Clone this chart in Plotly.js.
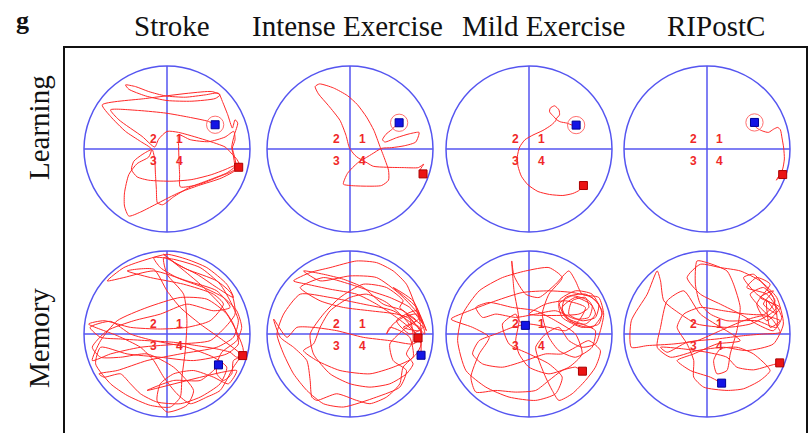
<!DOCTYPE html>
<html><head><meta charset="utf-8">
<script src="https://cdn.plot.ly/plotly-3.0.1.min.js"></script>
<style>html,body{margin:0;padding:0;background:#fff}</style>
</head><body><div id="chart" style="width:811px;height:433px"></div>
<script>
// ---- data (pool coordinates, pool radius 250, y pointing down as in tracker image) ----
const groups = ['Stroke', 'Intense Exercise', 'Mild Exercise', 'RIPostC'];
const trials = ['Learning', 'Memory'];
const quadrants = ['1', '2', '3', '4'];
const poolRadius = 250;
const platformRadius = 26;

const pathStrokeLearning = [[216,55],[205,50],[175,62],[135,77],[75,92],[15,97],[-55,94],[-90,84],[-107,62],[-100,37],[-75,17],[-45,2],[-37,32],[-35,72],[-32,122],[-29,162],[-13,168],[20,144],[65,117],[125,94],[180,72],[207,50],[203,22],[197,-3],[205,-28],[201,-53],[175,-36],[125,-22],[70,-28],[35,-43],[35,-8],[36,32],[38,77],[40,114],[95,107],[155,84],[203,62],[201,27],[195,-6],[203,-43],[213,-78],[205,-88],[197,-63],[183,-103],[167,-143],[155,-168],[115,-163],[55,-156],[-5,-160],[-55,-173],[-95,-188],[-125,-193],[-115,-180],[-65,-160],[0,-146],[75,-144],[145,-152],[160,-163],[135,-173],[65,-168],[-65,-152],[-195,-133],[-170,-98],[-125,-53],[-80,-23],[-47,0],[-55,24],[-90,44],[-115,77],[-128,132],[-128,172],[-115,202],[-80,190],[-25,162],[35,132],[95,110],[165,87],[220,54],[211,32],[193,12],[175,-6],[35,-50],[0,-53],[-25,-30],[-37,-6],[-75,-38],[-145,-88],[-170,-118],[-85,-116],[-3,-108],[65,-96],[125,-83],[142,-74]];
const pathIntenseLearning = [[220,75],[212,62],[222,46],[206,56],[160,56],[110,55],[70,52],[35,34],[12,52],[-8,74],[-20,106],[0,110],[50,112],[95,110],[116,94],[116,64],[106,34],[90,-8],[72,-56],[50,-96],[22,-134],[-8,-161],[-50,-184],[-92,-196],[-105,-188],[-95,-166],[-65,-131],[-30,-86],[-12,-41],[-2,-4],[15,19],[35,32],[65,16],[95,-2],[125,-4],[165,-10],[198,-21],[208,-50],[180,-46],[140,-34],[105,-21],[98,-28],[108,-44],[125,-58],[142,-74],[148,-79]];
const pathMildLearning = [[164,110],[152,124],[132,134],[102,140],[62,137],[27,128],[-3,108],[-23,82],[-33,52],[-35,22],[-28,-6],[-12,-28],[12,-42],[42,-56],[67,-72],[82,-88],[74,-98],[62,-112],[64,-123],[77,-130],[90,-118],[92,-103],[82,-90],[94,-82],[114,-78],[130,-72],[142,-72]];
const pathRIPostCLearning = [[228,77],[215,84],[209,94],[219,78],[228,60],[233,30],[231,-3],[226,-33],[221,-58],[213,-65],[201,-60],[185,-50],[168,-54],[155,-60],[145,-68],[143,-78]];

const pathStrokeMemory = [[228,65],[210,70],[190,55],[150,45],[90,35],[20,25],[-60,20],[-140,15],[-200,10],[-232,-20],[-170,-38],[-110,0],[-40,20],[60,40],[140,70],[180,100],[160,150],[100,190],[40,210],[-30,205],[-80,180],[-110,150],[-140,120],[-190,130],[-205,120],[-150,110],[-60,80],[40,60],[150,40],[200,10],[215,-40],[190,-100],[160,-150],[100,-200],[20,-225],[-40,-230],[-20,-200],[30,-170],[110,-140],[170,-110],[210,-70],[225,-20],[210,20],[165,55],[150,90],[150,120],[170,140],[195,120],[200,80],[225,65],[170,20],[100,-30],[40,-80],[0,-130],[-40,-195],[-120,-190],[-50,-170],[50,-150],[140,-120],[170,-90],[130,-40],[60,-20],[-20,-15],[-110,-20],[-190,-40],[-236,-30],[-150,5],[-80,40],[-40,80],[-10,130],[30,180],[70,210],[120,190],[160,170],[200,100],[230,50],[180,-60],[120,-105],[40,-110],[-60,-80],[-150,-40],[-200,20],[-225,80],[-170,60],[-80,40],[40,30],[130,20],[175,-20],[205,-60],[195,-120],[150,-160],[60,-195],[-10,-230],[0,-180],[50,-120],[60,-40],[55,50],[45,130],[40,190],[10,220],[-50,215],[-120,185],[-170,150],[-215,90],[-200,40],[-120,60],[-20,70],[80,80],[180,60],[215,30],[200,-30],[160,-90],[100,-150],[40,-200],[-10,-240],[30,-210],[90,-180],[150,-140],[200,-110],[180,-150],[120,-200],[60,-225],[0,-240],[-60,-225],[-130,-200],[-180,-160],[-130,-170],[-40,-190],[60,-160],[150,-130],[190,-80],[140,-70],[60,-90],[-20,-60],[-100,-40],[-180,-10],[-225,40],[-200,70],[-140,70],[-60,60],[20,100],[80,170],[60,215],[0,235],[-30,200],[-20,150],[20,120],[80,110],[140,130],[185,150],[210,110],[-60,170],[20,140],[100,140],[140,110],[155,93]];
const pathIntenseMemory = [[205,12],[190,-10],[140,-50],[80,-90],[20,-120],[-60,-135],[-130,-150],[-170,-160],[-120,-185],[-60,-200],[20,-220],[80,-215],[130,-190],[170,-150],[195,-90],[210,-40],[215,10],[190,30],[120,20],[40,10],[-40,-10],[-110,-20],[-160,-20],[-190,10],[-230,-45],[-210,10],[-170,40],[-130,80],[-120,140],[-115,190],[-100,200],[-40,180],[20,200],[60,210],[110,190],[150,150],[160,100],[200,60],[214,30],[170,-40],[110,-95],[50,-120],[0,-110],[-60,-70],[-90,-20],[-110,30],[-140,50],[-100,80],[-30,110],[60,120],[130,100],[190,70],[180,10],[150,-10],[120,-20],[110,0],[130,-30],[160,-50],[200,-60],[220,-30],[180,-80],[120,-110],[60,-130],[0,-150],[-80,-170],[-150,-140],[-90,-100],[-20,-80],[60,-70],[140,-60],[180,-45],[190,20],[170,60],[190,90],[170,120],[120,150],[60,160],[0,150],[-60,120],[-110,60],[-120,0],[-80,-60],[-30,-110],[40,-150],[110,-140],[160,-100],[150,-80],[200,-40],[160,-20],[210,-10],[170,-60],[220,-20],[180,0],[140,-40],[200,-70],[230,-10],[190,-100],[130,-140],[200,-80],[225,0],[160,-70],[100,-90],[40,-140],[-20,-165],[-80,-180],[-140,-190],[-90,-160],[0,-175],[80,-170],[150,-120],[210,-50],[170,-20],[120,30],[130,80],[170,110],[150,160],[80,190],[-20,220],[-80,210],[-130,170],[-170,120],[-200,60],[-220,0],[-200,-60],[-150,-120],[-60,-110],[40,-90],[130,-70],[190,-30],[210,-20],[214,64]];
const pathMildMemory = [[161,112],[140,100],[100,110],[60,140],[20,170],[-40,175],[-100,170],[-160,175],[-175,130],[-150,60],[-120,10],[-170,-20],[-235,-45],[-180,-70],[-100,-100],[-20,-125],[60,-130],[130,-125],[190,-110],[220,-70],[210,-30],[160,-20],[100,-50],[90,-90],[130,-115],[180,-100],[200,-60],[170,-30],[120,-40],[100,-80],[140,-110],[190,-85],[180,-50],[140,-45],[80,-70],[20,-60],[-40,-50],[-100,-60],[-140,-50],[-160,-80],[-120,-95],[-50,-80],[20,-70],[80,-40],[140,0],[160,60],[120,100],[60,120],[0,100],[-30,60],[-40,20],[-30,-40],[-45,-130],[-52,-220],[-45,-175],[-10,-120],[30,-110],[80,-150],[120,-190],[140,-160],[160,-120],[210,-110],[225,-60],[215,-10],[200,30],[160,40],[120,20],[90,-20],[50,0],[20,40],[30,80],[50,130],[70,170],[90,200],[130,180],[170,140],[200,100],[215,50],[180,20],[140,40],[100,60],[50,60],[-10,80],[-80,100],[-140,90],[-170,60],[-150,20],[-100,0],[-50,-20],[0,-30],[60,-20],[110,-10],[150,-40],[170,-80],[110,-100],[50,-90],[0,-60],[150,-60],[180,-80],[170,-110],[130,-100],[120,-60],[160,-40],[200,-50],[210,-90],[170,-120],[110,-110],[100,-70],[140,-30],[190,-20],[220,-60],[190,-120],[140,-130],[90,-100],[110,-50],[160,-30],[200,-10],[190,40],[140,70],[90,50],[60,10],[40,-60],[60,-120],[100,-170],[60,-200],[-10,-190],[-80,-170],[-150,-130],[-200,-60],[-215,20],[-190,110],[-130,160],[-60,190],[20,200],[80,180],[100,130],[60,90],[0,60],[-60,30],[-80,-30],[-40,-60],[-30,-40],[-11,-26]];
const pathRIPostCMemory = [[219,87],[190,95],[140,108],[90,100],[60,70],[0,55],[-70,45],[-140,40],[-120,55],[-60,25],[30,15],[110,5],[170,0],[220,-5],[200,-40],[160,-80],[130,-120],[170,-140],[205,-100],[175,-60],[120,-60],[50,-70],[-20,-80],[-70,-60],[-90,-20],[-60,30],[-40,80],[-40,130],[-10,160],[60,170],[110,165],[160,140],[190,110],[140,60],[90,40],[40,45],[20,80],[30,120],[60,110],[70,60],[90,-10],[100,-80],[80,-150],[60,-190],[0,-215],[-30,-220],[-35,-150],[-20,-90],[10,-60],[60,-40],[150,-40],[210,-20],[200,-110],[170,-150],[140,-180],[110,-170],[150,-120],[210,-80],[190,-60],[130,-30],[60,-20],[-30,-30],[-80,-60],[-130,-100],[-140,-160],[-150,-190],[-180,-120],[-228,-40],[-228,40],[-180,35],[-100,30],[-30,20],[40,-10],[110,-40],[170,-55],[220,-40],[190,-20],[180,-100],[210,-60],[170,-90],[200,-130],[160,-110],[220,-80],[180,-40],[150,-90],[190,-150],[150,-170],[120,-140],[180,-120],[225,-50],[200,-10],[150,-30],[100,-60],[40,-90],[-20,-120],[-60,-170],[-20,-210],[40,-200],[100,-190],[160,-160],[210,-110],[230,-30],[200,30],[120,50],[50,40],[-30,50],[-110,70],[-150,40],[-140,-20],[-120,-100],[-70,-130],[-20,-60],[100,20],[30,30],[-40,60],[-90,80],[-50,110],[10,130],[44,148]];

const paths = [
  [pathStrokeLearning, pathIntenseLearning, pathMildLearning, pathRIPostCLearning],
  [pathStrokeMemory, pathIntenseMemory, pathMildMemory, pathRIPostCMemory]
];
const startPoints = [
  [[216,55],[220,75],[164,110],[228,77]],
  [[228,65],[205,12],[161,112],[219,87]]
];
const endPoints = [
  [[145,-73],[148,-79],[142,-72],[143,-80]],
  [[155,93],[214,64],[-11,-26],[44,148]]
];

// ---- layout constants (pixels) ----
const W = 811, H = 433;
const colCenters = [167, 350, 529, 707];
const rowCenters = [149, 334];
const half = 85;
const halfRange = poolRadius * 85 / 83;
const quadLabelPos = {'1': [37, -31], '2': [-42, -31], '3': [-42, 35], '4': [37, 35]};

const BLUE = 'rgb(85,85,240)';
const RED = 'rgb(255,40,40)';

const traces = [];
const shapes = [];
const annotations = [];
const layout = {
  width: W, height: H,
  margin: {l: 0, r: 0, t: 0, b: 0},
  paper_bgcolor: '#fff', plot_bgcolor: 'rgba(0,0,0,0)',
  showlegend: false,
  font: {family: 'Liberation Serif, Times New Roman, serif'}
};

for (let r = 0; r < trials.length; r++) {
  for (let c = 0; c < groups.length; c++) {
    const idx = r * 4 + c + 1;
    const sfx = idx === 1 ? '' : String(idx);
    const xa = 'x' + sfx, ya = 'y' + sfx;
    const cx = colCenters[c], cy = rowCenters[r];
    layout['xaxis' + sfx] = {
      domain: [(cx - half) / W, (cx + half) / W], range: [-halfRange, halfRange],
      visible: false, fixedrange: true, anchor: ya
    };
    layout['yaxis' + sfx] = {
      domain: [(H - cy - half) / H, (H - cy + half) / H], range: [halfRange, -halfRange],
      visible: false, fixedrange: true, anchor: xa
    };
    shapes.push({type: 'circle', xref: xa, yref: ya, x0: -poolRadius, y0: -poolRadius, x1: poolRadius, y1: poolRadius,
      line: {color: BLUE, width: 1.5}, layer: 'below'});
    shapes.push({type: 'line', xref: xa, yref: ya, x0: -poolRadius, y0: 0, x1: poolRadius, y1: 0,
      line: {color: BLUE, width: 1.5}, layer: 'below'});
    shapes.push({type: 'line', xref: xa, yref: ya, x0: 0, y0: -poolRadius, x1: 0, y1: poolRadius,
      line: {color: BLUE, width: 1.5}, layer: 'below'});
    quadrants.forEach(q => {
      annotations.push({xref: xa, yref: ya, x: quadLabelPos[q][0], y: quadLabelPos[q][1], text: q, showarrow: false,
        font: {family: 'Liberation Sans, Arial, sans-serif', size: 12, color: 'rgb(240,40,40)', weight: 'bold'}});
    });
    const ep = endPoints[r][c];
    if (r === 0) {
      shapes.push({type: 'circle', xref: xa, yref: ya,
        x0: ep[0] - platformRadius, y0: ep[1] - platformRadius, x1: ep[0] + platformRadius, y1: ep[1] + platformRadius,
        line: {color: 'rgb(255,110,110)', width: 1}});
    }
    const p = paths[r][c];
    traces.push({type: 'scatter', mode: 'lines', xaxis: xa, yaxis: ya,
      x: p.map(d => d[0]), y: p.map(d => d[1]),
      line: {color: RED, width: 1, shape: 'spline', smoothing: 0.6}, hoverinfo: 'skip'});
    const sp = startPoints[r][c];
    traces.push({type: 'scatter', mode: 'markers', xaxis: xa, yaxis: ya, x: [sp[0]], y: [sp[1]],
      marker: {symbol: 'square', size: 8, color: 'rgb(235,20,20)', line: {color: 'rgb(170,0,0)', width: 1}}});
    traces.push({type: 'scatter', mode: 'markers', xaxis: xa, yaxis: ya, x: [ep[0]], y: [ep[1]],
      marker: {symbol: 'square', size: 8, color: 'rgb(20,20,230)', line: {color: 'rgb(0,0,150)', width: 1}}});
  }
}

shapes.push({type: 'rect', xref: 'paper', yref: 'paper', x0: 64 / W, x1: 807 / W, y0: -0.1, y1: (H - 47) / H,
  line: {color: '#111', width: 2}});

const titleX = [172, 347, 543, 716];
groups.forEach((g, i) => {
  annotations.push({xref: 'paper', yref: 'paper', x: titleX[i] / W, y: (H - 26) / H, text: g, showarrow: false,
    xanchor: 'center', yanchor: 'middle', font: {family: 'Liberation Serif, Times New Roman, serif', size: 29, color: '#111'}});
});
const rowLabelY = [128, 338];
trials.forEach((t, i) => {
  annotations.push({xref: 'paper', yref: 'paper', x: 39 / W, y: (H - rowLabelY[i]) / H, text: t, showarrow: false,
    textangle: -90, xanchor: 'center', yanchor: 'middle',
    font: {family: 'Liberation Serif, Times New Roman, serif', size: 29, color: '#111'}});
});
annotations.push({xref: 'paper', yref: 'paper', x: 22 / W, y: (H - 21) / H, text: '<b>g</b>', showarrow: false,
  xanchor: 'center', yanchor: 'middle', font: {family: 'Liberation Serif, Times New Roman, serif', size: 26, color: '#111'}});

layout.shapes = shapes;
layout.annotations = annotations;

Plotly.newPlot('chart', traces, layout, {staticPlot: true, displayModeBar: false});
</script>
</body></html>
